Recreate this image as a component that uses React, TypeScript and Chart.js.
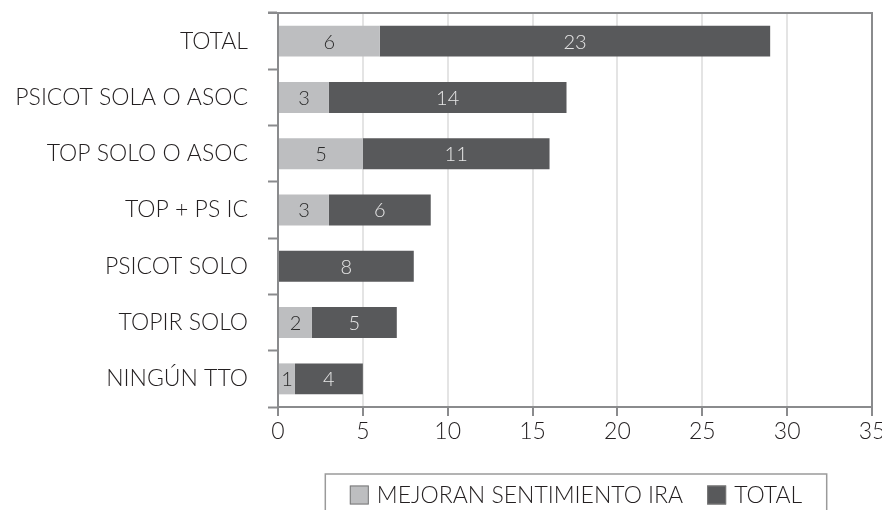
import React, { useEffect, useRef } from "react";
import { Chart, registerables } from "chart.js";

Chart.register(...registerables);

const categories: string[] = [
  "TOTAL",
  "PSICOT SOLA O ASOC",
  "TOP SOLO O ASOC",
  "TOP + PS IC",
  "PSICOT SOLO",
  "TOPIR SOLO",
  "NINGÚN TTO",
];
const mejoranValues: number[] = [6, 3, 5, 3, 0, 2, 1];
const totalValues: number[] = [23, 14, 11, 6, 8, 5, 4];
const seriesNames: string[] = ["MEJORAN SENTIMIENTO IRA", "TOTAL"];
const xTickValues: number[] = [0, 5, 10, 15, 20, 25, 30, 35];

const FONT = "Lato";
const AXIS = "#8a8b8d";
const GRID = "#e4e4e4";
const LIGHT = "#bdbec0";
const DARK = "#58595b";
const LABEL_COLORS = ["#2a2a2a", "#e6e6e6"];

const valueLabels = {
  id: "valueLabels",
  afterDatasetsDraw(chart: any) {
    const ctx = chart.ctx;
    ctx.save();
    ctx.font = `300 20px ${FONT}`;
    ctx.textAlign = "center";
    ctx.textBaseline = "middle";
    chart.data.datasets.forEach((ds: any, i: number) => {
      const meta = chart.getDatasetMeta(i);
      meta.data.forEach((el: any, j: number) => {
        const v = ds.data[j];
        if (!v) return;
        const p = el.getCenterPoint();
        ctx.fillStyle = LABEL_COLORS[i];
        ctx.fillText(String(v), p.x, p.y + 1);
      });
    });
    ctx.restore();
  },
};

const frame = {
  id: "frame",
  afterDraw(chart: any) {
    const { ctx, chartArea } = chart;
    const { left, right, top, bottom } = chartArea;
    ctx.save();
    ctx.strokeStyle = AXIS;
    ctx.lineWidth = 2;
    ctx.beginPath();
    ctx.moveTo(left - 10, top);
    ctx.lineTo(right, top);
    ctx.lineTo(right, bottom);
    ctx.stroke();
    ctx.restore();
  },
};

const boxLegend = {
  id: "boxLegend",
  afterDraw(chart: any) {
    const { ctx, chartArea } = chart;
    const cx = (chartArea.left + chartArea.right) / 2 + 1;
    ctx.save();
    ctx.font = `300 23px ${FONT}`;
    ctx.textBaseline = "middle";
    const sq = 19;
    const gapText = 8;
    const gapItems = 24;
    const widths = chart.data.datasets.map(
      (ds: any) => sq + gapText + ctx.measureText(ds.label).width
    );
    const total = widths.reduce((a: number, b: number) => a + b, 0) + gapItems * (widths.length - 1);
    const boxW = total + 49;
    const boxTop = chartArea.bottom + 67;
    ctx.strokeStyle = "#9a9a9a";
    ctx.lineWidth = 1.5;
    ctx.strokeRect(cx - boxW / 2, boxTop, boxW, 60);
    let x = cx - total / 2;
    const y = boxTop + 21;
    chart.data.datasets.forEach((ds: any, i: number) => {
      ctx.fillStyle = ds.backgroundColor;
      ctx.fillRect(x, y - sq / 2, sq, sq);
      ctx.strokeStyle = "#7a7a7a";
      ctx.lineWidth = 1;
      ctx.strokeRect(x + 0.5, y - sq / 2 + 0.5, sq - 1, sq - 1);
      ctx.fillStyle = "#231f20";
      ctx.fillText(ds.label, x + sq + gapText, y + 1);
      x += widths[i] + gapItems;
    });
    ctx.restore();
  },
};

export default function App() {
  const ref = useRef<HTMLCanvasElement | null>(null);
  useEffect(() => {
    if (!ref.current) return;
    const chart = new Chart(ref.current, {
      type: "bar",
      data: {
        labels: categories,
        datasets: [
          {
            label: seriesNames[0],
            data: mejoranValues,
            backgroundColor: LIGHT,
            barPercentage: 0.55,
            categoryPercentage: 1,
          },
          {
            label: seriesNames[1],
            data: totalValues,
            backgroundColor: DARK,
            barPercentage: 0.55,
            categoryPercentage: 1,
          },
        ],
      },
      options: {
        indexAxis: "y",
        animation: false,
        responsive: false,
        maintainAspectRatio: false,
        layout: { padding: { top: 13, right: 10, left: 0, bottom: 0 } },
        plugins: {
          legend: { display: false },
          tooltip: { enabled: false },
        },
        scales: {
          x: {
            stacked: true,
            min: 0,
            max: 35,
            afterBuildTicks: (scale: any) => {
              scale.ticks = xTickValues.map((v) => ({ value: v }));
            },
            afterFit: (scale: any) => {
              scale.height = 103;
              scale.paddingLeft = 0;
              scale.paddingRight = 0;
              scale.paddingTop = 0;
              scale.paddingBottom = 0;
            },
            border: { display: true, color: AXIS, width: 2 },
            grid: {
              color: (c: any) => (c.index === 0 ? "rgba(0,0,0,0)" : GRID),
              lineWidth: 2,
              tickColor: AXIS,
              tickLength: 9,
              tickWidth: 2,
            },
            ticks: {
              color: "#231f20",
              font: { family: FONT, size: 23, weight: "300" },
              padding: 2,
            },
          },
          y: {
            stacked: true,
            afterFit: (scale: any) => {
              scale.width = 278;
              scale.paddingLeft = 0;
              scale.paddingRight = 0;
              scale.paddingTop = 0;
              scale.paddingBottom = 0;
            },
            border: { display: true, color: AXIS, width: 2 },
            grid: {
              offset: true,
              drawOnChartArea: false,
              tickColor: AXIS,
              tickLength: 10,
              tickWidth: 2,
            },
            ticks: {
              color: "#231f20",
              font: { family: FONT, size: 23, weight: "300" },
              padding: 20,
            },
          },
        },
      },
      plugins: [valueLabels, frame, boxLegend],
    });
    return () => chart.destroy();
  }, []);
  return (
    <div style={{ position: "fixed", left: 0, top: 0, width: 882, height: 510, background: "#fff" }}>
      <canvas ref={ref} width={882} height={510} />
    </div>
  );
}
